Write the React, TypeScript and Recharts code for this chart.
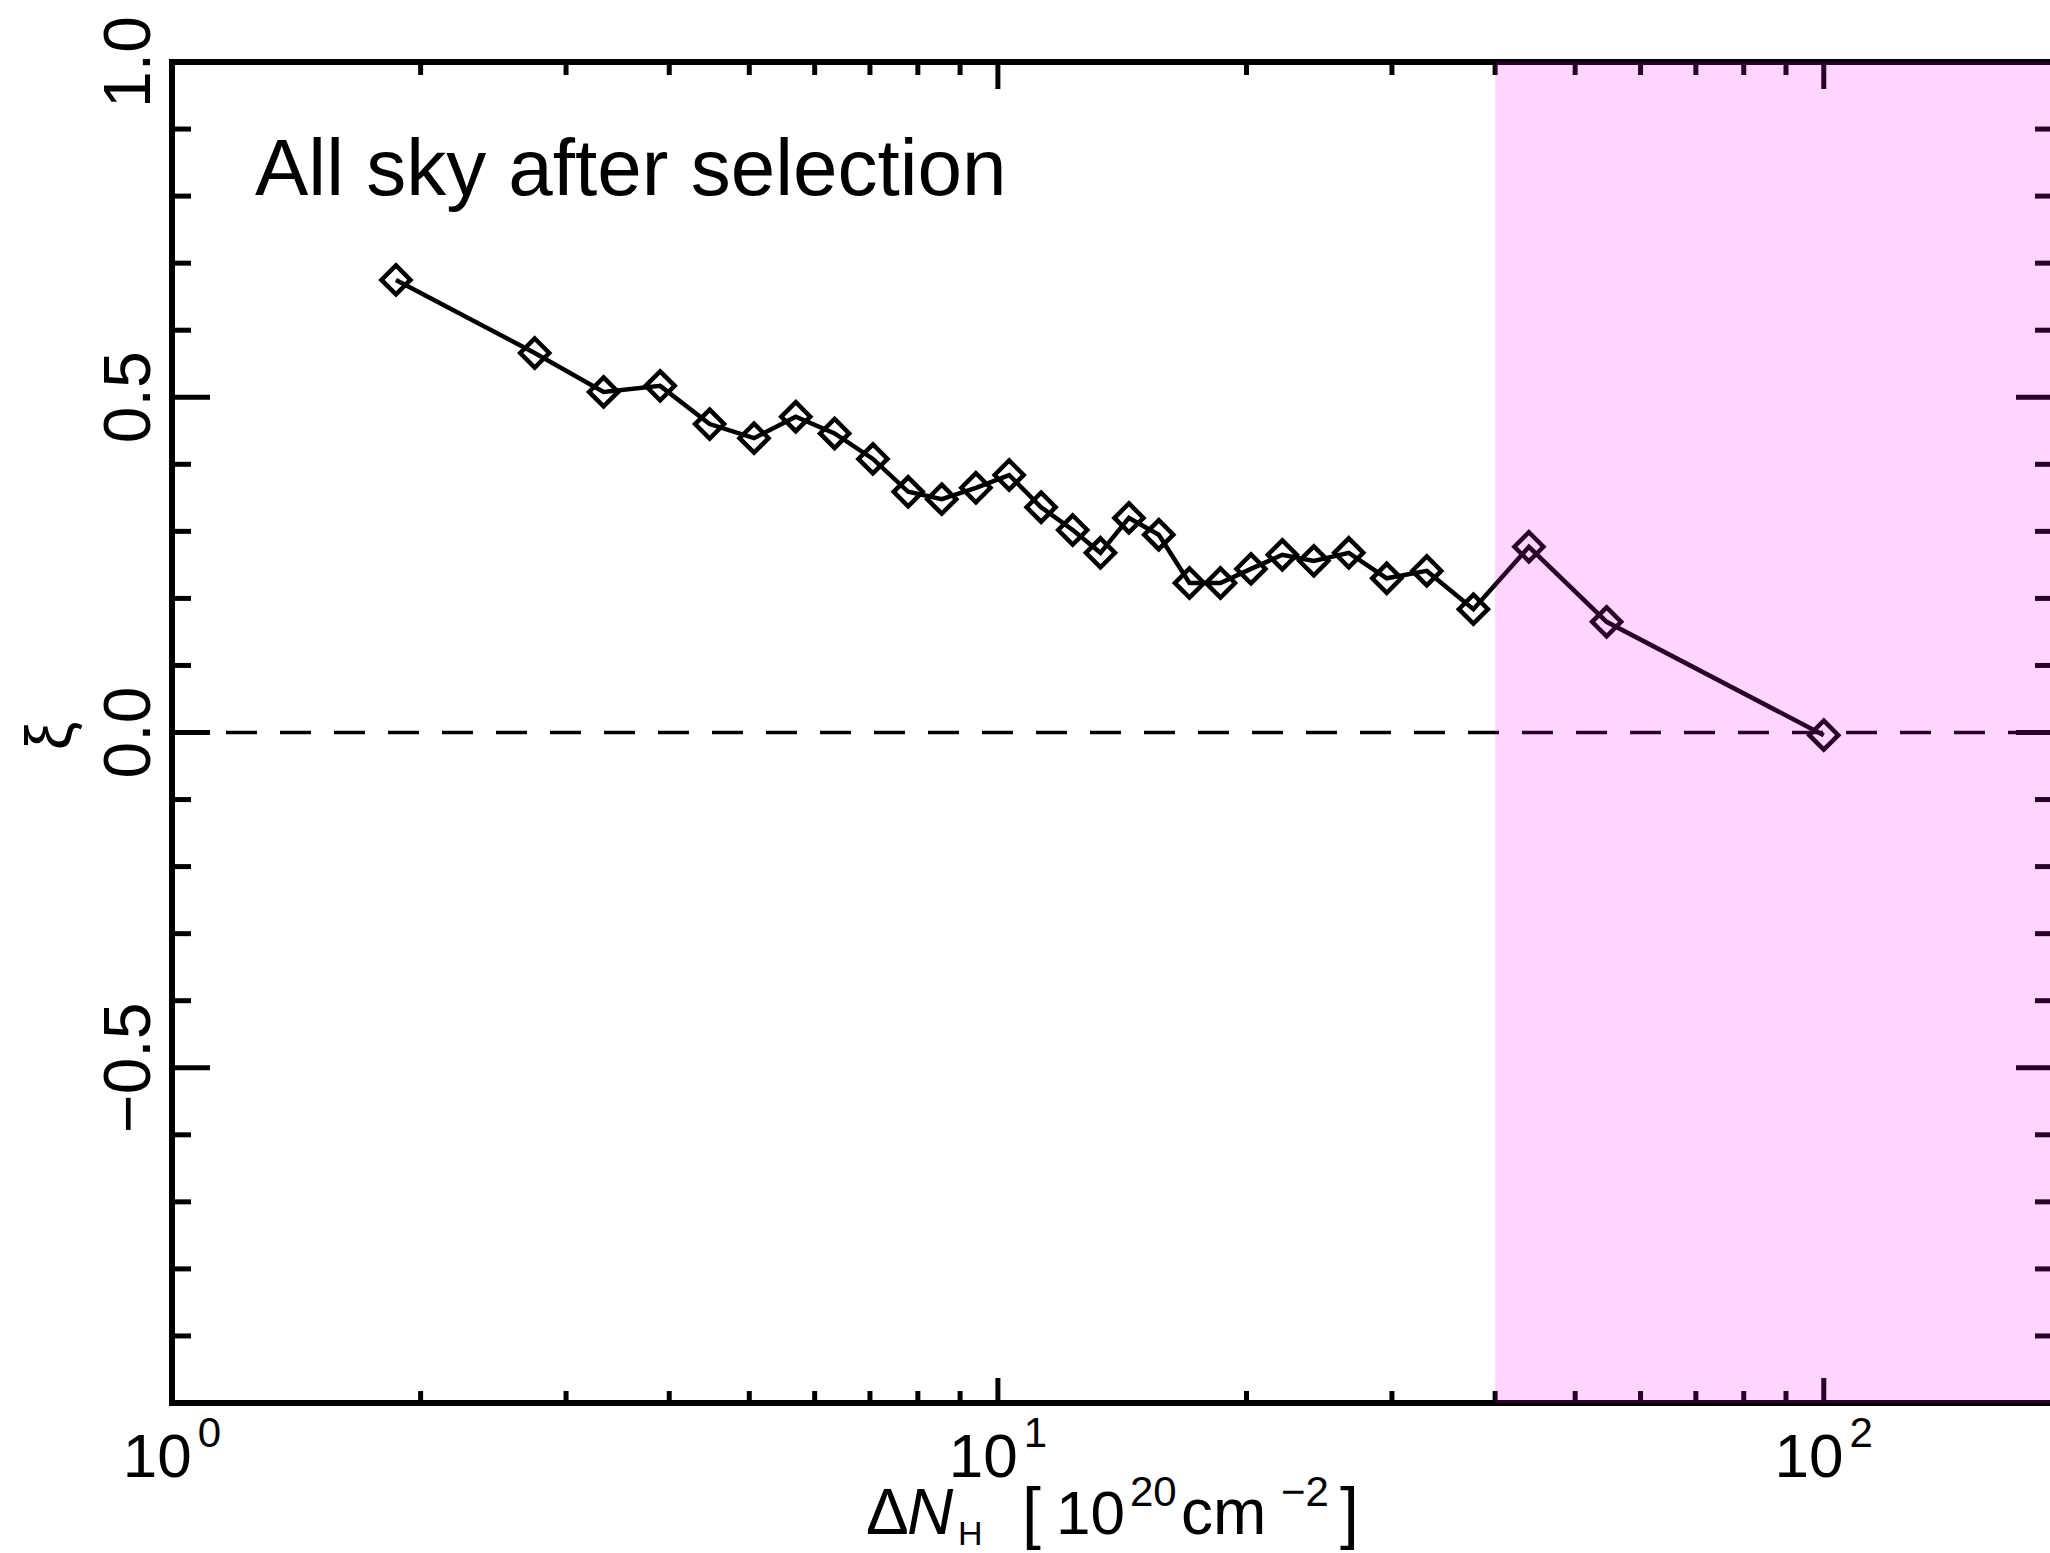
import React from 'react';
import { LineChart, Line, XAxis, YAxis, ReferenceArea, ReferenceLine, Customized } from 'recharts';

// ---- data ----
const deltaNH = [1.867, 2.749, 3.331, 3.9, 4.477, 5.067, 5.692, 6.343, 7.058, 7.787, 8.551, 9.406, 10.32, 11.28, 12.32, 13.31, 14.41, 15.66, 17.06, 18.6, 20.25, 22.1, 24.13, 26.6, 29.57, 33.06, 37.65, 43.95, 54.58, 100];
const xiValues = [0.675, 0.566, 0.508, 0.517, 0.46, 0.439, 0.471, 0.446, 0.408, 0.359, 0.348, 0.365, 0.384, 0.336, 0.302, 0.268, 0.32, 0.295, 0.223, 0.223, 0.244, 0.265, 0.256, 0.268, 0.23, 0.241, 0.184, 0.277, 0.165, -0.004];

const xDomain = [1, 190];
const yDomain = [-1, 1];
const xMajorTicks = [1, 10, 100];
const xMajorExponents = ['0', '1', '2'];
const xMinorTicks = [2, 3, 4, 5, 6, 7, 8, 9, 20, 30, 40, 50, 60, 70, 80, 90];
const yMajorTicks = [-1, -0.5, 0, 0.5, 1];
const yMajorLabels = ['', '\u22120.5', '0.0', '0.5', '1.0'];
const yMinorTicks = [-0.9, -0.8, -0.7, -0.6, -0.4, -0.3, -0.2, -0.1, 0.1, 0.2, 0.3, 0.4, 0.6, 0.7, 0.8, 0.9];
const shadeStart = 40;
const shadeEnd = 190;
const zeroLevel = 0;
const annotation = 'All sky after selection';

const data = deltaNH.map((x, i) => ({ x, xi: xiValues[i] }));
const xTicks = [...xMajorTicks, ...xMinorTicks].sort((a, b) => a - b);
const yTicks = [...yMajorTicks, ...yMinorTicks].sort((a, b) => a - b);

const FONT = '"Liberation Sans", Arial, Helvetica, sans-serif';
const close = (a: number, b: number) => Math.abs(a - b) < 1e-6;
const TICK_W = 5;

const BottomTick = (props: any) => {
  const { x, y, payload } = props;
  const mi = xMajorTicks.findIndex((t) => close(t, payload.value));
  const len = mi >= 0 ? 25 : 12;
  return (
    <g>
      <line x1={x} y1={y} x2={x} y2={y - len} stroke="#000" strokeWidth={TICK_W} />
      {mi >= 0 && (
        <text x={x} y={y + 74} textAnchor="middle" fontSize={62} fontFamily={FONT} fill="#000">
          10
          <tspan dx={6} dy={-30} fontSize={42}>{xMajorExponents[mi]}</tspan>
        </text>
      )}
    </g>
  );
};

const TopTick = (props: any) => {
  const { x, y, payload } = props;
  const major = xMajorTicks.some((t) => close(t, payload.value));
  const len = major ? 27 : 13;
  return <line x1={x} y1={y} x2={x} y2={y + len} stroke="#000" strokeWidth={TICK_W} />;
};

const LeftTick = (props: any) => {
  const { x, y, payload } = props;
  const mi = yMajorTicks.findIndex((t) => close(t, payload.value));
  const len = mi >= 0 ? 38 : 19;
  return (
    <g>
      <line x1={x} y1={y} x2={x + len} y2={y} stroke="#000" strokeWidth={TICK_W} />
      {mi >= 0 && yMajorLabels[mi] !== '' && (
        <text
          x={x - 22}
          y={y}
          textAnchor="middle"
          fontSize={66}
          fontFamily={FONT}
          fill="#000"
          transform={`rotate(-90, ${x - 22}, ${y})`}
        >
          {yMajorLabels[mi]}
        </text>
      )}
    </g>
  );
};

const RightTick = (props: any) => {
  const { x, y, payload } = props;
  const major = yMajorTicks.some((t) => close(t, payload.value));
  const len = major ? 38 : 19;
  return <line x1={x} y1={y} x2={x - len} y2={y} stroke="#000" strokeWidth={TICK_W} />;
};

const Diamond = (props: any) => {
  const { cx, cy, index } = props;
  if (cx == null || cy == null) return <g key={index} />;
  const r = 14.5;
  return (
    <path
      key={index}
      d={`M${cx},${cy - r}L${cx + r},${cy}L${cx},${cy + r}L${cx - r},${cy}Z`}
      fill="none"
      stroke="#000"
      strokeWidth={4.5}
      strokeLinejoin="miter"
    />
  );
};

const Titles = () => (
  <g fontFamily={FONT} fill="#000">
    <text x={255} y={195} fontSize={80}>{annotation}</text>
    <text x={71} y={736} fontSize={64} textAnchor="middle" transform="rotate(-90, 71, 736)">ξ</text>
    <text y={1534} fontSize={62}>
      <tspan x={866} fontSize={64}>Δ</tspan>
      <tspan x={907} fontSize={64} fontStyle="italic">N</tspan>
      <tspan x={958} y={1545} fontSize={34}>H</tspan>
      <tspan x={1022} y={1536} fontSize={68}>[</tspan>
      <tspan x={1056} y={1534}>10</tspan>
      <tspan x={1130} y={1506} fontSize={42}>20</tspan>
      <tspan x={1181} y={1534} fontSize={64}>cm</tspan>
      <tspan x={1281} y={1506} fontSize={42}>−2</tspan>
      <tspan x={1340} y={1536} fontSize={68}>]</tspan>
    </text>
  </g>
);

const axisLine = { stroke: '#000', strokeWidth: 6, strokeLinecap: 'square' as const };

export default function App() {
  return (
    <div style={{ position: 'absolute', left: 0, top: 0, width: 2050, height: 1553, overflow: 'hidden', background: '#fff' }}>
      <LineChart width={2060} height={1553} data={data} margin={{ top: 61, right: 5, bottom: 149, left: 171 }}>
        <XAxis
          xAxisId="bottom"
          dataKey="x"
          type="number"
          scale="log"
          domain={xDomain}
          allowDataOverflow
          ticks={xTicks}
          interval={0}
          height={1}
          tickSize={0}
          tickMargin={0}
          tickLine={false}
          axisLine={axisLine}
          tick={<BottomTick />}
        />
        <XAxis
          xAxisId="top"
          orientation="top"
          dataKey="x"
          type="number"
          scale="log"
          domain={xDomain}
          allowDataOverflow
          ticks={xTicks}
          interval={0}
          height={1}
          tickSize={0}
          tickMargin={0}
          tickLine={false}
          axisLine={axisLine}
          tick={<TopTick />}
        />
        <YAxis
          yAxisId="left"
          type="number"
          domain={yDomain}
          allowDataOverflow
          ticks={yTicks}
          interval={0}
          width={1}
          tickSize={0}
          tickMargin={0}
          tickLine={false}
          axisLine={axisLine}
          tick={<LeftTick />}
        />
        <YAxis
          yAxisId="right"
          orientation="right"
          type="number"
          domain={yDomain}
          allowDataOverflow
          ticks={yTicks}
          interval={0}
          width={1}
          tickSize={0}
          tickMargin={0}
          tickLine={false}
          axisLine={axisLine}
          tick={<RightTick />}
        />
        <ReferenceLine
          xAxisId="bottom"
          yAxisId="left"
          y={zeroLevel}
          stroke="#000"
          strokeWidth={3.5}
          strokeDasharray="31 23"
        />
        <Line
          xAxisId="bottom"
          yAxisId="left"
          dataKey="xi"
          stroke="#000"
          strokeWidth={4.5}
          dot={(p: any) => <Diamond key={p.index} {...p} />}
          activeDot={false}
          isAnimationActive={false}
        />
        <Customized component={Titles} />
        <ReferenceArea
          xAxisId="bottom"
          yAxisId="left"
          x1={shadeStart}
          x2={shadeEnd}
          y1={yDomain[0]}
          y2={yDomain[1]}
          fill="#ff00ff"
          fillOpacity={0.16}
          stroke="none"
          ifOverflow="visible"
          {...({ zIndex: 5000 } as any)}
        />
      </LineChart>
    </div>
  );
}
